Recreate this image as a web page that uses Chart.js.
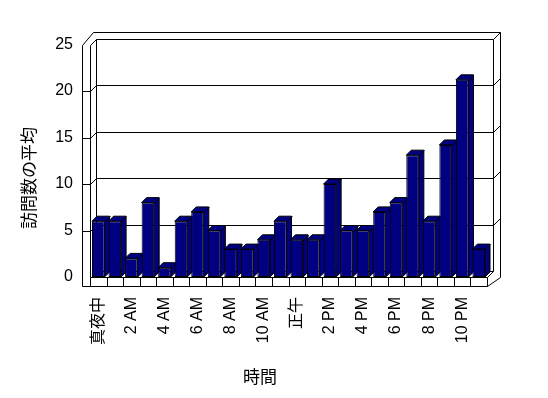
<!DOCTYPE html>
<html>
<head>
<meta charset="utf-8">
<script src="https://cdn.jsdelivr.net/npm/chart.js@4.4.0/dist/chart.umd.min.js"></script>
<style>
  html, body { margin: 0; padding: 0; background: #fff; }
  canvas { display: block; }
</style>
</head>
<body>
<canvas id="chart" width="548" height="398"></canvas>
<script>
// hours of the day (every other one is shown on the axis)
const hourLabels = [
  '真夜中', '1 AM', '2 AM', '3 AM', '4 AM', '5 AM', '6 AM', '7 AM', '8 AM', '9 AM', '10 AM', '11 AM',
  '正午', '1 PM', '2 PM', '3 PM', '4 PM', '5 PM', '6 PM', '7 PM', '8 PM', '9 PM', '10 PM', '11 PM'
];
// average visits per hour
const avgVisits = [6, 6, 2, 8, 1, 6, 7, 5, 3, 3, 4, 6, 4, 4, 10, 5, 5, 7, 8, 13.1, 6, 14.2, 21.2, 3];
const yTicks = [0, 5, 10, 15, 20, 25];
const xTitle = '時間';
const yTitle = '訪問数の平均';

const barColor = '#000080';
const tickFont = { family: '"Liberation Sans", "Noto Sans CJK JP", sans-serif', size: 16 };
const titleFont = '17px "Noto Sans CJK JP", sans-serif';

// draws the excel-like 3d box (walls, floor, back grid) and the bar depth faces
const box3d = {
  id: 'box3d',
  beforeDatasetsDraw(chart) {
    const { ctx, chartArea: a, scales: { x, y } } = chart;
    const L = a.left, R = a.right;
    const T = y.getPixelForValue(25), B = y.getPixelForValue(0);
    const d = 6;   // depth of the plot box
    const t = 7;   // wall thickness

    const p = v => Math.round(v) + 0.5;
    const line = (x1, y1, x2, y2) => {
      ctx.beginPath();
      ctx.moveTo(p(x1), p(y1));
      ctx.lineTo(p(x2), p(y2));
      ctx.stroke();
    };

    ctx.save();
    ctx.strokeStyle = '#000';
    ctx.lineWidth = 1;

    // left wall slab
    line(L - 8, T, L - 8, B + 9);
    line(L, T, L, B);
    line(L - 8, T, L + 3, T - d - t);
    line(L, T, L + d, T - d);

    // outer frame top and right
    line(L + 3, T - d - t, R + d + t, T - d - t);
    line(R + d + t, T - d - t, R + d + t, B);
    line(R + d + t, B, R, B + 9);

    // back wall inner edges
    line(L + d, T - d, R + d, T - d);
    line(R + d, T - d, R + d + t, T - d - t);
    line(L + d, T - d, L + d, B - d);
    line(R + d, T - d, R + d, B - d);
    line(R + d, B - d, R, B);
    line(L + d, B - d, R + d, B - d);

    // floor
    line(L, B, R, B);
    line(L - 8, B + 9, R, B + 9);
    const n = hourLabels.length;
    for (let i = 0; i <= n; i++) {
      const xx = L + i * (R - L) / n;
      line(xx, B, xx, B + 9);
    }

    // grid lines wrapping the left wall and the back wall
    yTicks.forEach(v => {
      if (v === 0 || v === 25) return;
      const yy = y.getPixelForValue(v);
      line(L - 8, yy, L, yy);
      line(L, yy, L + d, yy - d);
      line(L + d, yy - d, R + d, yy - d);
      line(R + d, yy - d, R + d + t, yy - d - t);
    });

    // bar tops and sides
    const bd = 5;
    ctx.fillStyle = barColor;
    chart.getDatasetMeta(0).data.forEach(el => {
      const { x: cx, y: yt, base, width } = el.getProps(['x', 'y', 'base', 'width'], true);
      const x1 = cx - width / 2, x2 = cx + width / 2;
      ctx.beginPath();
      ctx.moveTo(x1, yt);
      ctx.lineTo(x1 + bd, yt - bd);
      ctx.lineTo(x2 + bd, yt - bd);
      ctx.lineTo(x2 + bd, base - bd);
      ctx.lineTo(x2, base);
      ctx.lineTo(x2, yt);
      ctx.closePath();
      ctx.fill();
      ctx.stroke();
      line(x2, yt, x2 + bd, yt - bd);
    });

    ctx.restore();
  },
  afterDraw(chart) {
    const { ctx } = chart;
    ctx.save();
    ctx.fillStyle = '#000';
    ctx.font = titleFont;
    ctx.textAlign = 'center';
    ctx.textBaseline = 'middle';
    ctx.fillText(xTitle, 260, 377);
    ctx.translate(29, 178);
    ctx.rotate(-Math.PI / 2);
    ctx.fillText(yTitle, 0, 0);
    ctx.restore();
  }
};

Chart.defaults.color = '#000';

new Chart(document.getElementById('chart'), {
  type: 'bar',
  data: {
    labels: hourLabels,
    datasets: [{
      data: avgVisits,
      backgroundColor: barColor,
      borderColor: '#000',
      borderWidth: 1,
      borderSkipped: false,
      barPercentage: 0.76,
      categoryPercentage: 1
    }]
  },
  options: {
    responsive: false,
    animation: false,
    devicePixelRatio: 1,
    layout: { padding: { top: 44.5, right: 61, bottom: 0, left: 0 } },
    plugins: {
      legend: { display: false },
      tooltip: { enabled: false }
    },
    scales: {
      x: {
        grid: { display: false, drawTicks: false },
        border: { display: false },
        ticks: {
          autoSkip: false,
          minRotation: 90,
          maxRotation: 90,
          padding: 20,
          font: tickFont,
          callback: (val, i) => (i % 2 === 0 ? hourLabels[i] : '')
        },
        afterFit: s => { s.height = 121; }
      },
      y: {
        min: 0,
        max: 25,
        grid: { display: false, drawTicks: false },
        border: { display: false },
        ticks: { stepSize: 5, padding: 17, font: tickFont },
        afterFit: s => { s.width = 90; }
      }
    }
  },
  plugins: [box3d]
});
</script>
</body>
</html>
